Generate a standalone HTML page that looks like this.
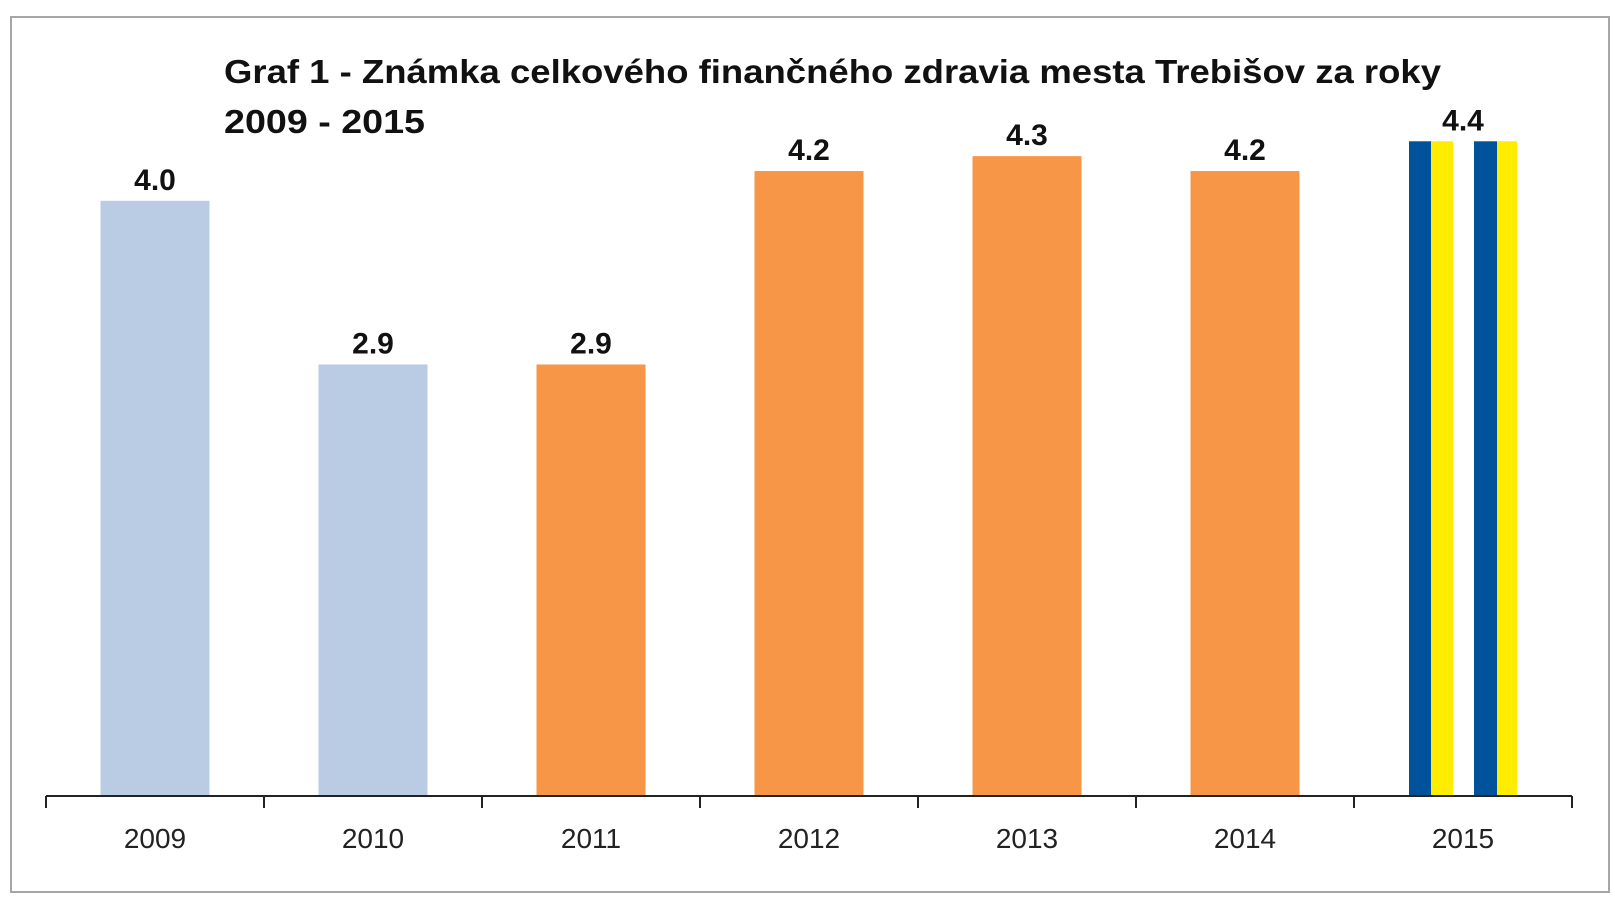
<!DOCTYPE html>
<html><head><meta charset="utf-8"><style>html,body{margin:0;padding:0;background:#fff}svg{display:block}</style></head>
<body>
<svg id="chart" width="1615" height="900" viewBox="0 0 1615 900" xmlns="http://www.w3.org/2000/svg" font-family="'Liberation Sans', sans-serif">
<rect x="11" y="17" width="1598" height="875" fill="#fff" stroke="#a6a6a6" stroke-width="2"/>
<text x="224" y="83" font-size="33" font-weight="bold" fill="#111" textLength="1217" lengthAdjust="spacingAndGlyphs">Graf 1 - Známka celkového finančného zdravia mesta Trebišov za roky</text>
<text x="224" y="133" font-size="33" font-weight="bold" fill="#111" textLength="201" lengthAdjust="spacingAndGlyphs">2009 - 2015</text>
<g id="bars"></g>
<g id="axis"></g>
</svg>
<script>
const categories = ["2009","2010","2011","2012","2013","2014","2015"];
const values = [4.0, 2.9, 2.9, 4.2, 4.3, 4.2, 4.4];
const valueLabels = ["4.0","2.9","2.9","4.2","4.3","4.2","4.4"];
const styles = ["light","light","orange","orange","orange","orange","flag"];

const NS = "http://www.w3.org/2000/svg";
const x0 = 46, step = 218, baseY = 796, pxPerUnit = 148.8;
function xCenter(i){ return x0 + step * (i + 0.5); }
function yPos(v){ return baseY - v * pxPerUnit; }
function mk(tag, attrs, parent){ const e = document.createElementNS(NS, tag); for (const k in attrs) e.setAttribute(k, attrs[k]); parent.appendChild(e); return e; }

const bars = document.getElementById("bars");
const axis = document.getElementById("axis");
const colors = {light:"#b9cce4", orange:"#f79646"};
categories.forEach((c, i) => {
  const cx = xCenter(i), top = yPos(values[i]), h = baseY - top;
  if (styles[i] === "flag") {
    const parts = [[-54,22,"#00529b"],[-32,22,"#ffed00"],[11,23,"#00529b"],[34,20,"#ffed00"]];
    parts.forEach((p, j) => {
      const r = mk("rect", {x: cx + p[0], y: top, width: p[1], height: h, fill: p[2]}, bars);
      
      
    });
  } else {
    const r = mk("rect", {x: cx - 54.5, y: top, width: 109, height: h, fill: colors[styles[i]]}, bars);
    
    
  }
  const t = mk("text", {x: cx, y: top - 11, "text-anchor": "middle", "font-size": "30", "font-weight": "bold", fill: "#111"}, bars);
  t.textContent = valueLabels[i];
  
  
  const yl = mk("text", {x: cx, y: 848, "text-anchor": "middle", "font-size": "28", fill: "#222"}, axis);
  yl.textContent = c;
  
  
});
const line = mk("line", {x1: x0, y1: baseY, x2: x0 + step * categories.length, y2: baseY, stroke: "#222", "stroke-width": "2"}, axis);


for (let i = 0; i <= categories.length; i++) {
  const tk = mk("line", {x1: x0 + step * i, y1: baseY, x2: x0 + step * i, y2: baseY + 12, stroke: "#222", "stroke-width": "2"}, axis);
  
  
}
</script>
</body></html>
